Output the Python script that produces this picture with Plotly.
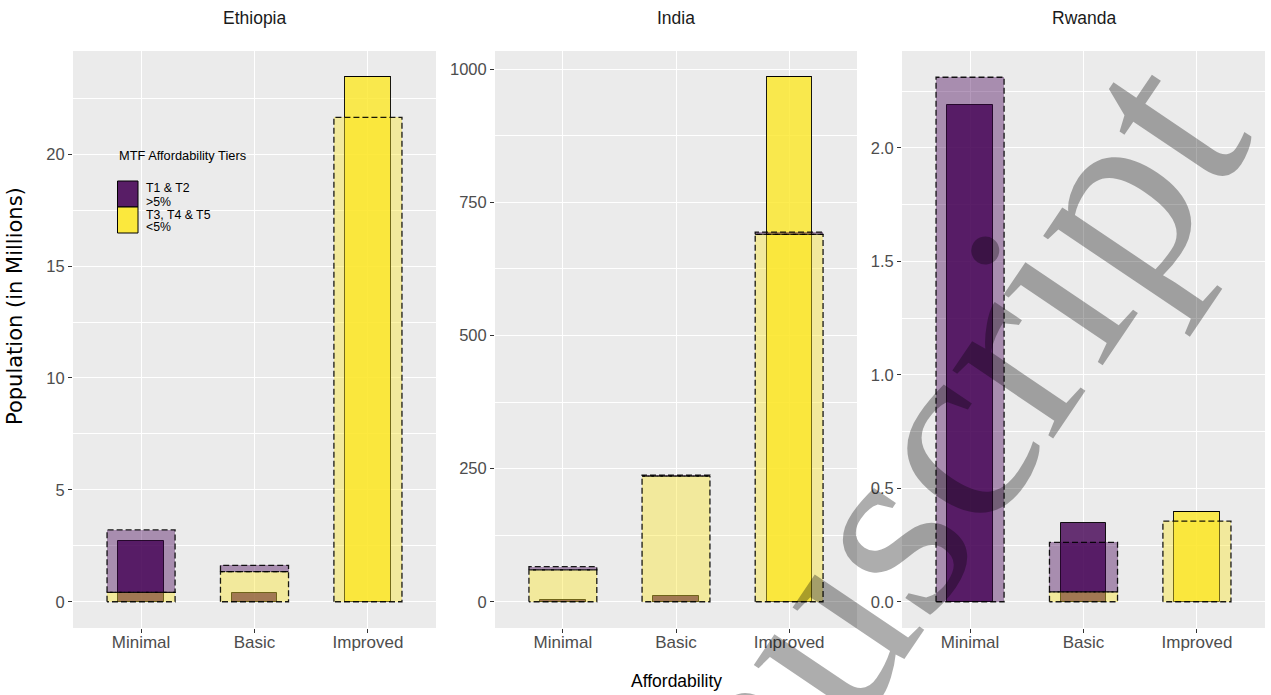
import plotly.graph_objects as go
from plotly.subplots import make_subplots

W, H = 1271, 695

countries = ["Ethiopia", "India", "Rwanda"]
levels = ["Minimal", "Basic", "Improved"]

# Wide dashed bars (stacked: T3-T5 at the base, T1 & T2 on top), population in millions
eth_wide_t35 = [0.42, 1.35, 21.65]
eth_wide_t12 = [2.79, 0.28, 0.0]
ind_wide_t35 = [60.0, 236.0, 690.0]
ind_wide_t12 = [6.0, 2.0, 4.0]
rwa_wide_t35 = [0.0, 0.044, 0.355]
rwa_wide_t12 = [2.311, 0.218, 0.0]

# Narrow solid bars
eth_narrow_t35 = [0.0, 0.0, 23.44]
eth_narrow_t12 = [2.72, 0.37, 0.0]
ind_narrow_t35 = [0.0, 0.0, 985.0]
ind_narrow_t12 = [4.0, 10.6, 0.0]
rwa_narrow_t35 = [0.0, 0.0, 0.397]
rwa_narrow_t12 = [2.187, 0.346, 0.0]

y_ticks = [[0, 5, 10, 15, 20], [0, 250, 500, 750, 1000], [0.0, 0.5, 1.0, 1.5, 2.0]]
y_tick_text = [["0", "5", "10", "15", "20"],
               ["0", "250", "500", "750", "1000"],
               ["0.0", "0.5", "1.0", "1.5", "2.0"]]
y_minor = [2.5, 125, 0.25]

series = [
    (eth_wide_t35, eth_wide_t12, eth_narrow_t35, eth_narrow_t12),
    (ind_wide_t35, ind_wide_t12, ind_narrow_t35, ind_narrow_t12),
    (rwa_wide_t35, rwa_wide_t12, rwa_narrow_t35, rwa_narrow_t12),
]

PURPLE = (68, 1, 84)
YELLOW = (253, 231, 37)


def rgba(c, a):
    return f"rgba({c[0]},{c[1]},{c[2]},{a})"


WIDE_W, NARROW_W = 0.6, 0.4
FONT = "Liberation Sans, Arial, sans-serif"

# panel pixel boxes (left, right); all panels share top/bottom
panel_x = [(73, 436), (495, 857), (902, 1265)]
panel_top, panel_bottom = 51, 628

fig = make_subplots(rows=1, cols=3)
xpos = list(range(len(levels)))


def outline(values, bases, width):
    xs, ys = [], []
    for c, v, b in zip(xpos, values, bases):
        if v <= 0:
            continue
        x0, x1 = c - width / 2, c + width / 2
        xs += [x0, x0, x1, x1, x0, None]
        ys += [b, b + v, b + v, b, b, None]
    return xs, ys


for i, (w35, w12, n35, n12) in enumerate(series):
    col = i + 1
    w12_base = list(w35)
    n12_base = list(n35)
    # narrow bars underneath
    fig.add_trace(go.Bar(x=xpos, y=n35, width=NARROW_W,
                         marker=dict(color=rgba(YELLOW, 0.8),
                                     line=dict(color="rgba(0,0,0,0.9)", width=1)),
                         showlegend=False, hoverinfo="skip"), row=1, col=col)
    fig.add_trace(go.Bar(x=xpos, y=n12, base=n12_base, width=NARROW_W,
                         marker=dict(color=rgba(PURPLE, 0.8),
                                     line=dict(color="rgba(0,0,0,0.9)", width=1)),
                         showlegend=False, hoverinfo="skip"), row=1, col=col)
    # wide translucent bars on top
    fig.add_trace(go.Bar(x=xpos, y=w35, width=WIDE_W,
                         marker=dict(color=rgba(YELLOW, 0.4), line=dict(width=0)),
                         showlegend=False, hoverinfo="skip"), row=1, col=col)
    fig.add_trace(go.Bar(x=xpos, y=w12, base=w12_base, width=WIDE_W,
                         marker=dict(color=rgba(PURPLE, 0.4), line=dict(width=0)),
                         showlegend=False, hoverinfo="skip"), row=1, col=col)
    # dashed outlines of the wide bars
    for vals, bases in ((w35, [0] * 3), (w12, w12_base)):
        xs, ys = outline(vals, bases, WIDE_W)
        fig.add_trace(go.Scatter(x=xs, y=ys, mode="lines",
                                 line=dict(color="rgba(0,0,0,0.9)", width=1.3, dash="6px,3px"),
                                 showlegend=False, hoverinfo="skip"), row=1, col=col)

    top = max(max(a + b for a, b in zip(w35, w12)), max(a + b for a, b in zip(n35, n12)))
    left, right = panel_x[i]
    axis_sfx = "" if col == 1 else str(col)
    fig.layout["xaxis" + axis_sfx].update(
        domain=[left / W, right / W], range=[-0.6, 2.6],
        tickmode="array", tickvals=xpos, ticktext=levels,
        showgrid=True, gridcolor="white", gridwidth=1.2, zeroline=False,
        ticks="outside", ticklen=4, tickwidth=1, tickcolor="#333333",
        ticklabelstandoff=-5,
        tickfont=dict(family=FONT, size=17, color="#4D4D4D"),
        showline=False, automargin=False, fixedrange=True,
    )
    fig.layout["yaxis" + axis_sfx].update(
        domain=[1 - panel_bottom / H, 1 - panel_top / H],
        range=[-0.05 * top, 1.05 * top],
        tickmode="array", tickvals=y_ticks[i], ticktext=y_tick_text[i],
        showgrid=True, gridcolor="white", gridwidth=1.2, zeroline=False,
        minor=dict(showgrid=True, gridcolor="white", gridwidth=0.6,
                   dtick=y_minor[i], tick0=0, ticks=""),
        ticks="outside", ticklen=4, tickwidth=1, tickcolor="#333333",
        tickfont=dict(family=FONT, size=16.5, color="#4D4D4D"),
        showline=False, automargin=False, fixedrange=True,
    )

annotations = []
# facet titles
for i, name in enumerate(countries):
    left, right = panel_x[i]
    annotations.append(dict(text=name, x=(left + right) / 2 / W, y=1 - 18 / H,
                            xref="paper", yref="paper", showarrow=False,
                            xanchor="center", yanchor="middle",
                            font=dict(family=FONT, size=17.5, color="#1A1A1A")))
# axis titles
annotations.append(dict(text="Affordability", x=676 / W, y=1 - 681 / H,
                        xref="paper", yref="paper", showarrow=False,
                        xanchor="center", yanchor="middle",
                        font=dict(family=FONT, size=17.5, color="#000000")))
annotations.append(dict(text="Population (in Millions)", x=15 / W, y=1 - 306 / H,
                        xref="paper", yref="paper", showarrow=False, textangle=-90,
                        xanchor="center", yanchor="middle",
                        font=dict(family="DejaVu Sans, sans-serif", size=21, color="#000000")))

# legend placed inside the first panel
legend_title = "MTF Affordability Tiers"
legend_lines = [("T1 &amp; T2", 188), ("&gt;5%", 201.5), ("T3, T4 &amp; T5", 215), ("&lt;5%", 227.5)]
annotations.append(dict(text=legend_title, x=117 / W, y=1 - 156 / H,
                        xref="paper", yref="paper", showarrow=False,
                        xanchor="left", yanchor="middle",
                        font=dict(family=FONT, size=12.8, color="#000000")))
for txt, yp in legend_lines:
    annotations.append(dict(text=txt, x=144 / W, y=1 - yp / H,
                            xref="paper", yref="paper", showarrow=False,
                            xanchor="left", yanchor="middle",
                            font=dict(family=FONT, size=12.3, color="#000000")))

shapes = []
for (y0, y1), fill in (((181, 207), "rgb(88,29,102)"), ((207, 233), "rgb(251,232,61)")):
    shapes.append(dict(type="rect", xref="paper", yref="paper",
                       x0=117.5 / W, x1=138 / W, y0=1 - y1 / H, y1=1 - y0 / H,
                       fillcolor=fill, line=dict(color="#000000", width=1), layer="above"))

# diagonal 'Manuscript' watermark over the whole figure
annotations.append(dict(text="Manuscript", x=845 / W, y=1 - 588 / H,
                        xref="paper", yref="paper", showarrow=False, textangle=-56,
                        xanchor="center", yanchor="middle",
                        font=dict(family="Liberation Serif, Times New Roman, serif",
                                  size=265, color="rgba(0,0,0,0.32)")))

fig.update_layout(
    width=W, height=H, margin=dict(l=0, r=0, t=0, b=0),
    paper_bgcolor="white", plot_bgcolor="#EBEBEB",
    barmode="overlay", bargap=0, showlegend=False,
    annotations=annotations, shapes=shapes,
    font=dict(family=FONT),
)

fig.write_html("out.html")
